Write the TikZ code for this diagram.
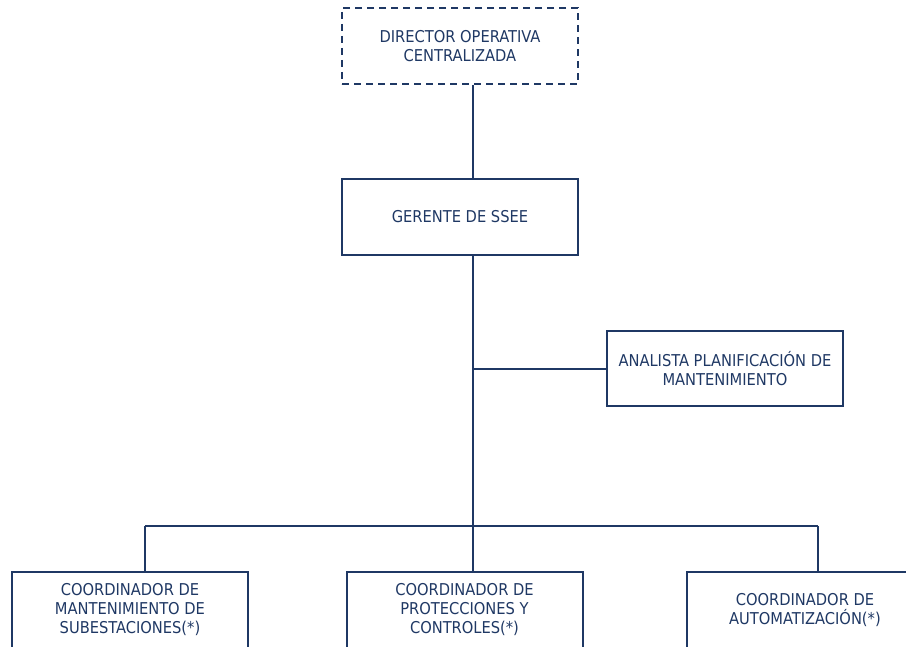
\documentclass[tikz,border=0pt]{standalone}
\usepackage{fontspec}
\setmainfont{DejaVu Sans Condensed}
\definecolor{navy}{RGB}{31,56,100}
\begin{document}
\begin{tikzpicture}[x=1pt,y=-1pt,
  orgbox/.style={draw=navy,line width=2pt,rectangle,minimum width=236pt,minimum height=76pt,
    align=center,text=navy,font=\fontsize{16.3}{19}\selectfont,inner sep=0pt},
  dashbox/.style={orgbox,dash pattern=on 7pt off 5pt},
  link/.style={draw=navy,line width=2pt}]
\useasboundingbox (0,0) rectangle (906,647);
\node[dashbox] (dir) at (460,46) {DIRECTOR OPERATIVA\\CENTRALIZADA};
\node[orgbox] (ger) at (460,217) {GERENTE DE SSEE};
\node[orgbox,minimum height=75pt] (ana) at (725,368.5) {ANALISTA PLANIFICACIÓN DE\\MANTENIMIENTO};
\node[orgbox] (c1) at (130,610) {COORDINADOR DE\\MANTENIMIENTO DE\\SUBESTACIONES(*)};
\node[orgbox] (c2) at (464.5,610) {COORDINADOR DE\\PROTECCIONES Y\\CONTROLES(*)};
\node[orgbox] (c3) at (805,610) {COORDINADOR DE\\AUTOMATIZACIÓN(*)};
\coordinate (j1) at (473,369);
\coordinate (j2) at (473,526);
\coordinate (bl) at (145,526);
\coordinate (br) at (818,526);
\draw[link] (dir.south -| j1) -- (ger.north -| j1);
\draw[link] (ger.south -| j1) -- (j2);
\draw[link] (j1) -- (j1 -| ana.west);
\draw[link] (bl) -- (br);
\draw[link] (bl) -- (bl |- c1.north);
\draw[link] (j2) -- (j2 |- c2.north);
\draw[link] (br) -- (br |- c3.north);
\end{tikzpicture}
\end{document}
